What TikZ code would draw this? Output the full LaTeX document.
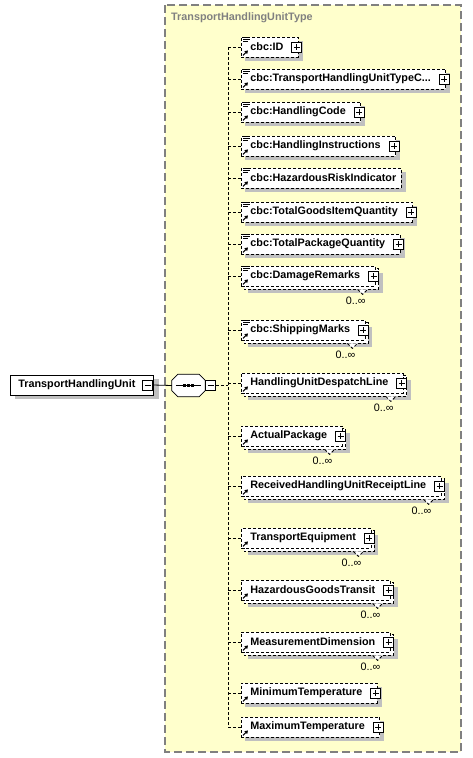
\documentclass[tikz,border=0pt]{standalone}
\usepackage{fontspec}
\setmainfont{Liberation Sans}
\usetikzlibrary{calc,arrows.meta}
\definecolor{yfill}{RGB}{255,255,204}
\definecolor{ygray}{RGB}{128,128,128}
\definecolor{shad}{RGB}{192,192,192}
\pgfdeclarelayer{bg}
\pgfdeclarelayer{shadowlayer}
\pgfsetlayers{bg,shadowlayer,main}
\newcommand\trunctxt{cbc:TransportHandlingUnitTypeC...}
\begin{document}
\begin{tikzpicture}[x=1pt,y=-1pt,
  lbl/.style={font=\fontsize{10.8}{13}\selectfont\bfseries},
  elem/.style={lbl, draw=black, fill=white, line width=0.8pt, dash pattern=on 3pt off 2pt, inner sep=0pt, minimum height=20pt, anchor=west},
  rootbox/.style={lbl, draw=black, fill=white, line width=0.8pt, inner sep=0pt, minimum height=20pt, anchor=west},
  backbox/.style={draw=black, fill=white, line width=0.8pt, dash pattern=on 3pt off 2pt},
  conn/.style={line width=0.8pt, dash pattern=on 3pt off 2pt},
  ybox/.style={draw=ygray, fill=yfill, line width=1.3pt, dash pattern=on 8pt off 4pt},
  plusbox/.style={draw=black, solid, fill=white, line width=0.7pt, minimum size=10pt, inner sep=0pt,
    path picture={\draw[line width=0.8pt] ([yshift=-2pt]path picture bounding box.north) -- ([yshift=2pt]path picture bounding box.south) ([xshift=2pt]path picture bounding box.west) -- ([xshift=-2pt]path picture bounding box.east);}},
  minusbox/.style={draw=black, solid, fill=white, line width=0.7pt, minimum size=10pt, inner sep=0pt,
    path picture={\draw[line width=0.8pt] ([xshift=2pt]path picture bounding box.west) -- ([xshift=-2pt]path picture bounding box.east);}},
  mult/.style={font=\fontsize{10.8}{13}\selectfont, inner sep=0pt, anchor=east},
]
\useasboundingbox (0,0) rectangle (472,758);

% type container
\begin{pgfonlayer}{bg}
  \draw[ybox] (165,5) rectangle (461,752);
\end{pgfonlayer}
\node[lbl, text=ygray, anchor=west, inner sep=0pt] (title) at (171,18) {TransportHandlingUnitType};

% root element
\node[rootbox] (root) at (10,385) {\hspace*{8pt}TransportHandlingUnit\hspace*{18pt}};
\node[minusbox] (rm) at ($(root.east)+(-6,0)$) {};
\begin{pgfonlayer}{shadowlayer}
  \fill[shad] ($(root.north west)+(5,4)$) rectangle ($(root.south east)+(5,4)$);
\end{pgfonlayer}

% sequence compositor
\node[inner sep=0pt, minimum width=33pt, minimum height=22pt] (seq) at (188.5,385.5) {};
\begin{pgfonlayer}{shadowlayer}
  \fill[shad, shift={(4,4)}] ($(seq.north west)+(6,0)$) -- ($(seq.north east)+(-6,0)$) -- ($(seq.north east)+(0,6)$) -- ($(seq.south east)+(0,-6)$) -- ($(seq.south east)+(-6,0)$) -- ($(seq.south west)+(6,0)$) -- ($(seq.south west)+(0,-6)$) -- ($(seq.north west)+(0,6)$) -- cycle;
\end{pgfonlayer}
\filldraw[fill=white, draw=black, line width=0.8pt] ($(seq.north west)+(6,0)$) -- ($(seq.north east)+(-6,0)$) -- ($(seq.north east)+(0,6)$) -- ($(seq.south east)+(0,-6)$) -- ($(seq.south east)+(-6,0)$) -- ($(seq.south west)+(6,0)$) -- ($(seq.south west)+(0,-6)$) -- ($(seq.north west)+(0,6)$) -- cycle;
\draw[line width=1pt] ($(seq.west)+(4,0)$) -- ($(seq.east)+(-4,0)$);
\foreach \dx in {-4,0,4} {
  \fill ($(seq.center)+(\dx-1.5,-1.5)$) rectangle ($(seq.center)+(\dx+1.5,1.5)$);
}
\node[minusbox] (sm) at (210.5,385.5) {};
\draw[line width=0.8pt] (rm.east) -- (seq.west);

\coordinate (tx) at (228,0);

% child elements
\foreach \i/\yy/\t/\c/\m/\p in {
  1/47/cbc:ID/1/0/1,
  2/79/\trunctxt/1/0/1,
  3/112/cbc:HandlingCode/1/0/1,
  4/146/cbc:HandlingInstructions/1/0/1,
  5/178/cbc:HazardousRiskIndicator/1/0/0,
  6/212/cbc:TotalGoodsItemQuantity/1/0/1,
  7/244/cbc:TotalPackageQuantity/1/0/1,
  8/276/cbc:DamageRemarks/1/1/1,
  9/330/cbc:ShippingMarks/1/1/1,
  10/383/HandlingUnitDespatchLine/0/1/1,
  11/436/ActualPackage/0/1/1,
  12/486/ReceivedHandlingUnitReceiptLine/0/1/1,
  13/538/TransportEquipment/0/1/1,
  14/590/HazardousGoodsTransit/0/1/1,
  15/642/MeasurementDimension/0/1/1,
  16/693/MinimumTemperature/0/0/1,
  17/727/MaximumTemperature/0/0/1} {
  \node[elem] (e\i) at (241,\yy) {\hspace*{9pt}\t\hspace*{\ifnum\p=1 15pt\else 5pt\fi}};
  \ifnum\p=1
    \node[plusbox] (p\i) at ($(e\i.east)+(-2,0)$) {};
  \fi
  \begin{pgfonlayer}{shadowlayer}
    \ifnum\m=1
      \fill[shad] ($(e\i.north west)+(7,7)$) rectangle ($(e\i.south east)+(7,7)$);
      \draw[backbox] ($(e\i.north west)+(3,3)$) rectangle ($(e\i.south east)+(3,3)$);
      \filldraw[backbox] ($(e\i.south east)+(-18,3)$) -- ($(e\i.south east)+(-13,8)$) -- ($(e\i.south east)+(-8,3)$);
    \else
      \fill[shad] ($(e\i.north west)+(4,4)$) rectangle ($(e\i.south east)+(4,4)$);
    \fi
  \end{pgfonlayer}
  \ifnum\m=1
    \node[mult] (m\i) at ($(e\i.south east)+(-10,14)$) {0..∞};
  \fi
  \ifnum\c=1
    \draw[line width=1pt] ($(e\i.north west)+(2,0.6)$) -- ++(7,0)
      ($(e\i.north west)+(2,2.6)$) -- ++(7,0)
      ($(e\i.north west)+(2,4.6)$) -- ++(5,0);
  \fi
  \draw[line width=1pt, -{Triangle[length=3.2pt,width=3.8pt]}] ($(e\i.south west)+(2,-2)$) -- ++(5,-5);
  \draw[conn] (e\i.west -| tx) -- (e\i.west);
}
\draw[conn] (e1.west -| tx) -- (e17.west -| tx);
\draw[conn] (sm.east) -- (sm.east -| tx);
\end{tikzpicture}
\end{document}
